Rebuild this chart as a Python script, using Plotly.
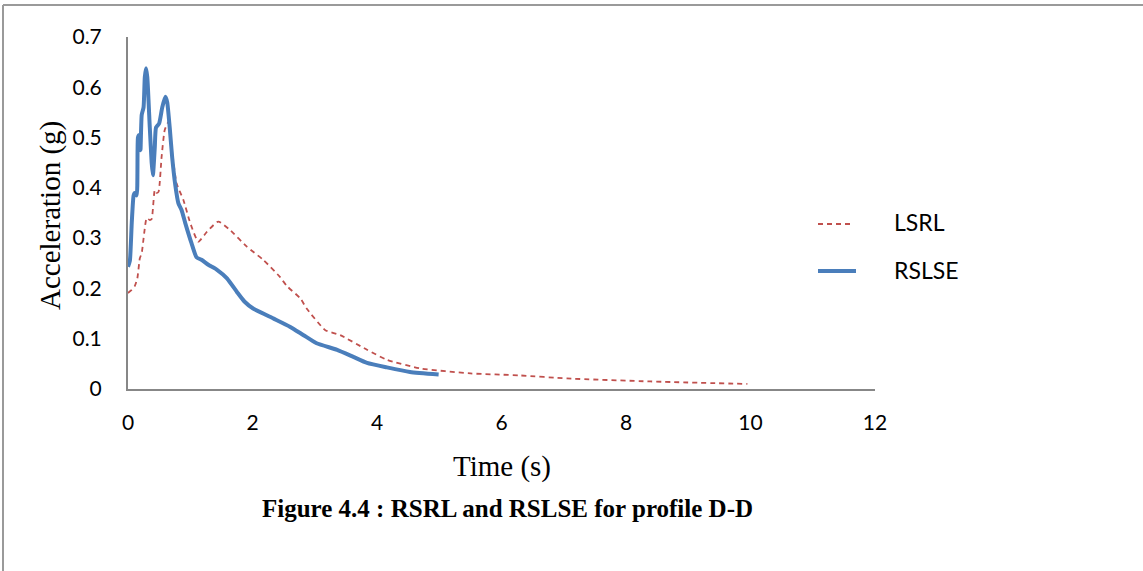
import plotly.graph_objects as go

# Response spectra for profile D-D: period (s) vs spectral acceleration (g)
lsrl_t = [0.00, 0.06, 0.11, 0.15, 0.19, 0.22, 0.26, 0.30, 0.35, 0.38, 0.43, 0.46,
          0.49, 0.54, 0.59, 0.65, 0.70, 0.78, 0.89, 1.00, 1.13, 1.27, 1.45, 1.64,
          1.91, 2.18, 2.44, 2.55, 2.77, 2.87, 3.17, 3.41, 3.84, 4.16, 4.69, 5.50,
          6.30, 7.05, 8.39, 9.95]
lsrl_a = [0.191, 0.197, 0.205, 0.220, 0.260, 0.270, 0.310, 0.340, 0.336, 0.338, 0.396, 0.390,
          0.392, 0.462, 0.515, 0.531, 0.482, 0.409, 0.376, 0.330, 0.293, 0.313, 0.333, 0.316,
          0.283, 0.256, 0.223, 0.205, 0.180, 0.160, 0.117, 0.107, 0.078, 0.058, 0.041, 0.031,
          0.027, 0.021, 0.015, 0.010]

rslse_t = [0.00, 0.03, 0.06, 0.09, 0.11, 0.14, 0.16, 0.18, 0.20, 0.22, 0.25, 0.27,
           0.29, 0.31, 0.35, 0.38, 0.40, 0.43, 0.45, 0.50, 0.55, 0.60, 0.63, 0.67,
           0.71, 0.76, 0.81, 0.86, 0.92, 1.02, 1.10, 1.18, 1.29, 1.43, 1.59, 1.75,
           1.87, 2.01, 2.34, 2.60, 2.82, 3.03, 3.36, 3.62, 3.84, 4.16, 4.53, 4.99]
rslse_a = [0.243, 0.255, 0.330, 0.385, 0.390, 0.385, 0.500, 0.505, 0.475, 0.545, 0.560, 0.620,
           0.638, 0.620, 0.520, 0.450, 0.425, 0.480, 0.520, 0.528, 0.560, 0.581, 0.570, 0.520,
           0.460, 0.405, 0.369, 0.356, 0.330, 0.290, 0.262, 0.257, 0.247, 0.237, 0.220, 0.193,
           0.174, 0.160, 0.140, 0.124, 0.107, 0.091, 0.078, 0.064, 0.052, 0.043, 0.034, 0.029]

x_ticks = [0, 2, 4, 6, 8, 10, 12]
y_ticks = [0, 0.1, 0.2, 0.3, 0.4, 0.5, 0.6, 0.7]
y_tick_text = ["0", "0.1", "0.2", "0.3", "0.4", "0.5", "0.6", "0.7"]

RED = "#C0504D"
BLUE = "#4A7EBB"
AXIS = "#878787"
TICK_FONT = dict(family="Lato, Carlito, Calibri, sans-serif", size=21, color="#000000")
SERIF = "Liberation Serif, Times New Roman, serif"

W, H = 1143, 571
L, R, T, B = 128, 268, 37, 182
PW, PH = W - L - R, H - T - B


def px(x):
    return (x - L) / PW


def py(y):
    return (H - B - y) / PH


fig = go.Figure()
fig.add_trace(go.Scatter(
    x=lsrl_t, y=lsrl_a, mode="lines", name="LSRL", showlegend=False,
    line=dict(color=RED, width=1.8, dash="5px,4px", shape="spline", smoothing=0.5),
))
fig.add_trace(go.Scatter(
    x=rslse_t, y=rslse_a, mode="lines", name="RSLSE", showlegend=False,
    line=dict(color=BLUE, width=4, shape="spline", smoothing=0.5),
))

fig.update_xaxes(
    range=[0, 12], tickvals=x_ticks, ticktext=[str(v) for v in x_ticks],
    showgrid=False, zeroline=False, showline=True, linecolor=AXIS, linewidth=2,
    ticks="", tickfont=TICK_FONT, ticklabelstandoff=14,
)
fig.update_yaxes(
    range=[0, 0.7], tickvals=y_ticks, ticktext=y_tick_text,
    showgrid=False, zeroline=False, showline=True, linecolor=AXIS, linewidth=2,
    ticks="", tickfont=TICK_FONT, ticklabelstandoff=20,
)

shapes = [
    # chart frame (top and left edges)
    dict(type="line", xref="paper", yref="paper", x0=px(3), y0=py(5), x1=px(W), y1=py(5),
         line=dict(color="#9A9A9A", width=2)),
    dict(type="line", xref="paper", yref="paper", x0=px(3), y0=py(5), x1=px(3), y1=py(H),
         line=dict(color="#9A9A9A", width=2)),
    # legend keys
    dict(type="line", xref="paper", yref="paper", x0=px(818), y0=py(224), x1=px(853), y1=py(224),
         line=dict(color=RED, width=2, dash="5px,4px")),
    dict(type="line", xref="paper", yref="paper", x0=px(818), y0=py(271), x1=px(856), y1=py(271),
         line=dict(color=BLUE, width=4)),
]

annotations = [
    dict(text="LSRL", x=px(892), y=py(222), xref="paper", yref="paper",
         xanchor="left", yanchor="middle", showarrow=False,
         font=dict(family=TICK_FONT["family"], size=23, color="#000000")),
    dict(text="RSLSE", x=px(892), y=py(270), xref="paper", yref="paper",
         xanchor="left", yanchor="middle", showarrow=False,
         font=dict(family=TICK_FONT["family"], size=23, color="#000000")),
    dict(text="Time (s)", x=px(502), y=py(466), xref="paper", yref="paper",
         xanchor="center", yanchor="middle", showarrow=False,
         font=dict(family=SERIF, size=29, color="#000000")),
    dict(text="Acceleration (g)", x=px(50), y=py(216), xref="paper", yref="paper",
         xanchor="center", yanchor="middle", showarrow=False, textangle=-90,
         font=dict(family=SERIF, size=29, color="#000000")),
    dict(text="<b>Figure 4.4 : RSRL and RSLSE for profile D-D</b>", x=px(507), y=py(508),
         xref="paper", yref="paper", xanchor="center", yanchor="middle", showarrow=False,
         font=dict(family=SERIF, size=25, color="#000000")),
]

fig.update_layout(
    width=W, height=H,
    margin=dict(l=L, r=R, t=T, b=B, autoexpand=False),
    paper_bgcolor="#FFFFFF", plot_bgcolor="#FFFFFF",
    shapes=shapes, annotations=annotations,
)

fig.write_html("out.html")
